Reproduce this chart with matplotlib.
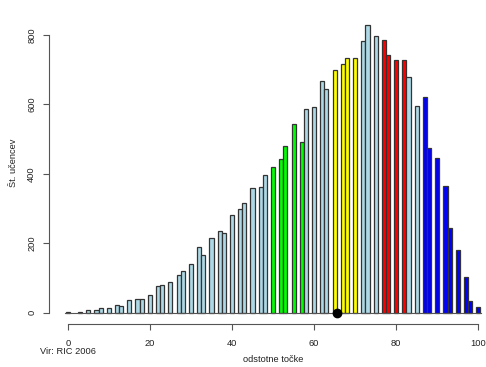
import matplotlib
matplotlib.use("Agg")
import numpy as np
from matplotlib import pyplot as plt

plt.rcParams['font.family'] = ['Liberation Sans', 'DejaVu Sans']
plt.rcParams['font.size'] = 6.7

# percentage points and number of pupils in each
tocke = [0, 3, 5, 7, 8, 10, 12, 13, 15, 17, 18, 20, 22, 23, 25, 27, 28, 30,
         32, 33, 35, 37, 38, 40, 42, 43, 45, 47, 48, 50, 52, 53, 55, 57, 58,
         60, 62, 63, 65, 67, 68, 70, 72, 73, 75, 77, 78, 80, 82, 83, 85, 87,
         88, 90, 92, 93, 95, 97, 98, 100]
ucenci = [3, 3, 8, 6, 12, 14, 23, 20, 36, 40, 40, 51, 76, 79, 87, 107, 119,
          141, 188, 165, 216, 234, 230, 280, 297, 315, 359, 361, 396, 419,
          442, 479, 543, 490, 586, 592, 667, 644, 698, 717, 733, 733, 781,
          828, 798, 784, 742, 728, 728, 680, 596, 620, 474, 444, 366, 245,
          179, 102, 33, 17]

# highlighted point groups
zelena = [50, 52, 53, 55, 57]
rumena = [65, 67, 68, 70]
rdeca = [77, 78, 80, 82]
modra = [87, 88, 90, 92, 93, 95, 97, 98, 100]

povprecje = 65.5

yticks = [0, 200, 400, 600, 800]
xticks = [0, 20, 40, 60, 80, 100]


def barva(t):
    if t in zelena:
        return '#00ff00'
    if t in rumena:
        return '#ffff00'
    if t in rdeca:
        return '#ff0000'
    if t in modra:
        return '#0000ff'
    return '#add8e6'


W, H = 486, 367
fig = plt.figure(figsize=(W / 100, H / 100), dpi=100)
ax = fig.add_axes([48.7 / W, (H - 324) / H, 435.8 / W, 303 / H])
ax.set_xlim(-4.64, 101.5)
ax.set_ylim(-33, 840)

ax.bar(tocke, ucenci, width=1.0, color=[barva(t) for t in tocke],
       edgecolor='#333333', linewidth=0.9, zorder=2)
ax.plot([-0.6, 100.6], [0, 0], color='#555555', lw=0.8, zorder=3)
ax.plot([povprecje], [0], 'o', color='black', markersize=6, clip_on=False,
        zorder=5)

for s in ['top', 'right']:
    ax.spines[s].set_visible(False)
ax.spines['left'].set_bounds(0, 800)
ax.spines['bottom'].set_bounds(0, 100)
for s in ['left', 'bottom']:
    ax.spines[s].set_color('#555555')
    ax.spines[s].set_linewidth(0.8)

ax.set_xticks(xticks)
ax.set_yticks(yticks)
ax.set_yticklabels([str(v) for v in yticks], rotation=90, va='center')
ax.tick_params(axis='both', direction='out', length=4, width=0.8,
               color='#555555', labelcolor='#222222')
ax.tick_params(axis='x', pad=7)
ax.tick_params(axis='y', pad=5)

fig.text(273 / W, 1 - 359 / H, 'odstotne točke', ha='center', va='center',
         color='#222222')
fig.text(13.3 / W, 1 - 163 / H, 'Št. učencev', ha='center', va='center',
         rotation=90, color='#222222')
fig.text(40 / W, 1 - 352 / H, 'Vir: RIC 2006', ha='left', va='center',
         color='#222222')

fig.savefig('out.png', dpi=100)
